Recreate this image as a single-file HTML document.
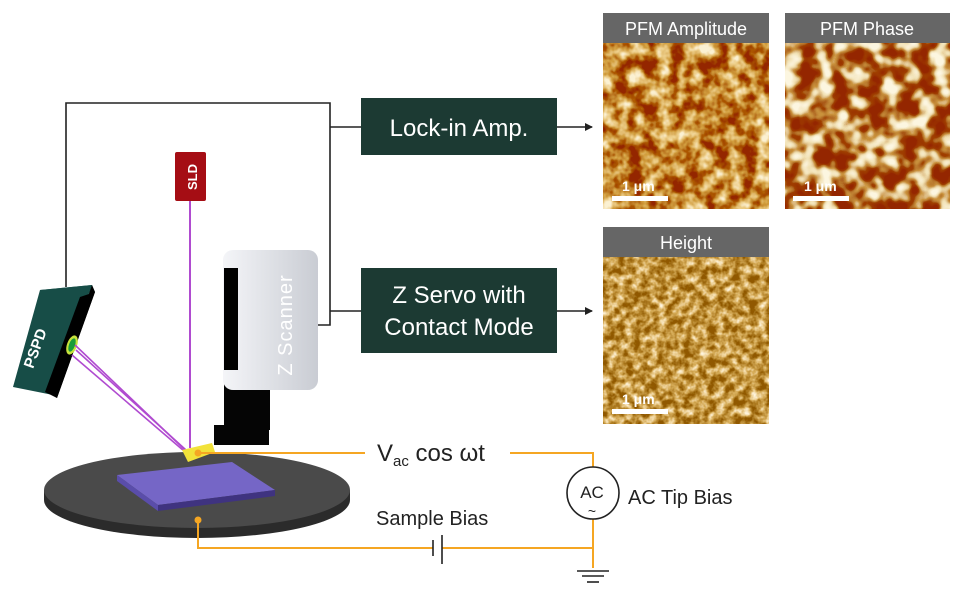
<!DOCTYPE html>
<html><head><meta charset="utf-8"><style>
html,body{margin:0;padding:0;background:#fff;width:960px;height:600px;overflow:hidden}
svg{display:block}
text{font-family:"Liberation Sans",sans-serif}
</style></head><body>
<svg width="960" height="600" viewBox="0 0 960 600" xmlns="http://www.w3.org/2000/svg">
<defs>
<filter id="afm1" x="0" y="0" width="100%" height="100%">
<feTurbulence type="fractalNoise" baseFrequency="0.07" numOctaves="3" seed="3"/>
<feColorMatrix type="matrix" values="0 0 0 0 0  0 0 0 0 0  0 0 0 0 0  2.0 0 0 0 -0.6"/>
<feColorMatrix type="matrix" values="0 0 0 1 0  0 0 0 1 0  0 0 0 1 0  0 0 0 0 1"/>
<feComponentTransfer>
<feFuncR type="table" tableValues="0.3 0.42 0.65 0.85 0.97"/>
<feFuncG type="table" tableValues="0.02 0.1 0.35 0.62 0.88"/>
<feFuncB type="table" tableValues="0 0 0.05 0.25 0.65"/>
</feComponentTransfer>
</filter>
<filter id="afm2" x="0" y="0" width="100%" height="100%">
<feTurbulence type="fractalNoise" baseFrequency="0.06" numOctaves="2" seed="8"/>
<feColorMatrix type="matrix" values="0 0 0 0 0  0 0 0 0 0  0 0 0 0 0  2.6 0 0 0 -0.9"/>
<feColorMatrix type="matrix" values="0 0 0 1 0  0 0 0 1 0  0 0 0 1 0  0 0 0 0 1"/>
<feComponentTransfer>
<feFuncR type="table" tableValues="0.3 0.35 0.6 0.88 0.98"/>
<feFuncG type="table" tableValues="0.02 0.05 0.3 0.75 0.92"/>
<feFuncB type="table" tableValues="0 0 0.05 0.45 0.75"/>
</feComponentTransfer>
</filter>
<filter id="afm3" x="0" y="0" width="100%" height="100%">
<feTurbulence type="fractalNoise" baseFrequency="0.12" numOctaves="3" seed="5"/>
<feColorMatrix type="matrix" values="0 0 0 0 0  0 0 0 0 0  0 0 0 0 0  1.8 0 0 0 -0.55"/>
<feColorMatrix type="matrix" values="0 0 0 1 0  0 0 0 1 0  0 0 0 1 0  0 0 0 0 1"/>
<feComponentTransfer>
<feFuncR type="table" tableValues="0.28 0.45 0.68 0.88 1"/>
<feFuncG type="table" tableValues="0.1 0.22 0.42 0.68 0.92"/>
<feFuncB type="table" tableValues="0 0.02 0.1 0.35 0.75"/>
</feComponentTransfer>
</filter>
<marker id="ar" markerWidth="8" markerHeight="8" refX="7" refY="4" orient="auto" markerUnits="userSpaceOnUse"><path d="M0,0 L8,4 L0,8 z" fill="#222"/></marker>
<linearGradient id="zs" x1="0" x2="1"><stop offset="0" stop-color="#f4f5f8"/><stop offset="1" stop-color="#c9ccd3"/></linearGradient>
</defs>

<polyline points="66,287 66,103 330,103 330,325 313,325" fill="none" stroke="#222" stroke-width="1.6"/>
<line x1="330" y1="127" x2="361" y2="127" stroke="#222" stroke-width="1.6"/>
<line x1="330" y1="311" x2="361" y2="311" stroke="#222" stroke-width="1.6"/>
<line x1="557" y1="127" x2="592" y2="127" stroke="#222" stroke-width="1.6" marker-end="url(#ar)"/>
<line x1="557" y1="311" x2="592" y2="311" stroke="#222" stroke-width="1.6" marker-end="url(#ar)"/>

<rect x="361" y="98" width="196" height="57" fill="#1c3a33"/>
<text x="459" y="136" font-size="24" fill="#fff" text-anchor="middle">Lock-in Amp.</text>
<rect x="361" y="268" width="196" height="85" fill="#1c3a33"/>
<text x="459" y="303" font-size="24" fill="#fff" text-anchor="middle">Z Servo with</text>
<text x="459" y="335" font-size="24" fill="#fff" text-anchor="middle">Contact Mode</text>

<rect x="603" y="13" width="166" height="30" fill="#666"/>
<text x="686" y="35" font-size="18" fill="#fff" text-anchor="middle">PFM Amplitude</text>
<rect x="603" y="43" width="166" height="166" filter="url(#afm1)"/>
<rect x="785" y="13" width="165" height="30" fill="#666"/>
<text x="867" y="35" font-size="18" fill="#fff" text-anchor="middle">PFM Phase</text>
<rect x="785" y="43" width="165" height="166" filter="url(#afm2)"/>
<rect x="603" y="227" width="166" height="30" fill="#666"/>
<text x="686" y="249" font-size="18" fill="#fff" text-anchor="middle">Height</text>
<rect x="603" y="257" width="166" height="167" filter="url(#afm3)"/>
<g fill="#fff" font-size="14" font-weight="bold">
<text x="622" y="191">1 μm</text><rect x="612" y="196" width="56" height="5"/>
<text x="804" y="191">1 μm</text><rect x="793" y="196" width="56" height="5"/>
<text x="622" y="404">1 μm</text><rect x="612" y="409" width="56" height="5"/>
</g>

<ellipse cx="197" cy="500" rx="153" ry="38" fill="#2b2b2b"/>
<rect x="44" y="490" width="306" height="10" fill="#2b2b2b"/>
<ellipse cx="197" cy="490" rx="153" ry="38" fill="#4a4a4a"/>
<polygon points="117,475 232,462 275,490 158,505" fill="#7566c6"/>
<polygon points="158,505 275,490 275,496 158,511" fill="#3f3380"/>
<polygon points="117,475 158,505 158,511 117,481" fill="#5a4daa"/>

<rect x="175" y="152" width="31" height="49" rx="2" fill="#a50d14"/>
<text transform="translate(197,177) rotate(-90)" font-size="13" font-weight="bold" fill="#fff" text-anchor="middle">SLD</text>
<line x1="190" y1="201" x2="190" y2="448" stroke="#b04bd0" stroke-width="2"/>

<polygon points="40,290 92,285 95,292 45,297" fill="#2a6a62"/>
<polygon points="40,290 92,285 53,395 13,387" fill="#174d47"/>
<polygon points="92,285 95,292 57,398 53,395" fill="#000"/>
<polygon points="80,297 95,292 57,398 45,392" fill="#000"/>
<text transform="translate(40,350) rotate(-70)" font-size="15" font-weight="bold" fill="#fff" text-anchor="middle">PSPD</text>
<ellipse cx="72" cy="345" rx="5" ry="10" fill="#c7e23c" transform="rotate(20 72 345)"/>
<ellipse cx="72" cy="345" rx="3" ry="7" fill="#1a9c3a" transform="rotate(20 72 345)"/>
<g stroke="#b04bd0" stroke-width="1.6">
<line x1="75" y1="345" x2="185" y2="450"/>
<line x1="76" y1="350" x2="186" y2="450"/>
<line x1="72" y1="355" x2="184" y2="451"/>
</g>

<rect x="224" y="290" width="46" height="140" fill="#050505"/>
<rect x="214" y="425" width="55" height="20" fill="#050505"/>
<rect x="223" y="250" width="95" height="140" rx="10" fill="url(#zs)"/>
<rect x="224" y="268" width="14" height="102" fill="#000"/>
<text transform="translate(292,325) rotate(-90)" font-size="20" fill="#fff" text-anchor="middle" letter-spacing="1">Z Scanner</text>
<polygon points="182,450 212,443 215,452 188,462" fill="#f2e23a"/>

<g stroke="#f5a623" stroke-width="2" fill="none">
<polyline points="198,453 365,453"/>
<polyline points="510,453 593,453 593,477"/>
<polyline points="593,509 593,568"/>
<polyline points="198,520 198,548 433,548"/>
<polyline points="442,548 593,548"/>
</g>
<circle cx="198" cy="453" r="3.5" fill="#f5a623"/>
<circle cx="198" cy="520" r="3.5" fill="#f5a623"/>
<line x1="433" y1="540" x2="433" y2="556" stroke="#222" stroke-width="1.6"/>
<line x1="442" y1="535" x2="442" y2="564" stroke="#222" stroke-width="1.6"/>
<circle cx="593" cy="493" r="26" fill="#fff" stroke="#222" stroke-width="1.6"/>
<text x="592" y="498" font-size="17" fill="#222" text-anchor="middle">AC</text>
<text x="592" y="516" font-size="14" fill="#222" text-anchor="middle">~</text>
<g stroke="#222" stroke-width="1.6">
<line x1="577" y1="571" x2="609" y2="571"/>
<line x1="582" y1="576" x2="604" y2="576"/>
<line x1="587" y1="582" x2="599" y2="582"/>
</g>
<text x="377" y="461" font-size="24" fill="#222">V<tspan font-size="15" dy="5">ac</tspan><tspan dy="-5"> cos ωt</tspan></text>
<text x="376" y="525" font-size="20" fill="#222">Sample Bias</text>
<text x="628" y="504" font-size="20" fill="#222">AC Tip Bias</text>
</svg>
</body></html>
